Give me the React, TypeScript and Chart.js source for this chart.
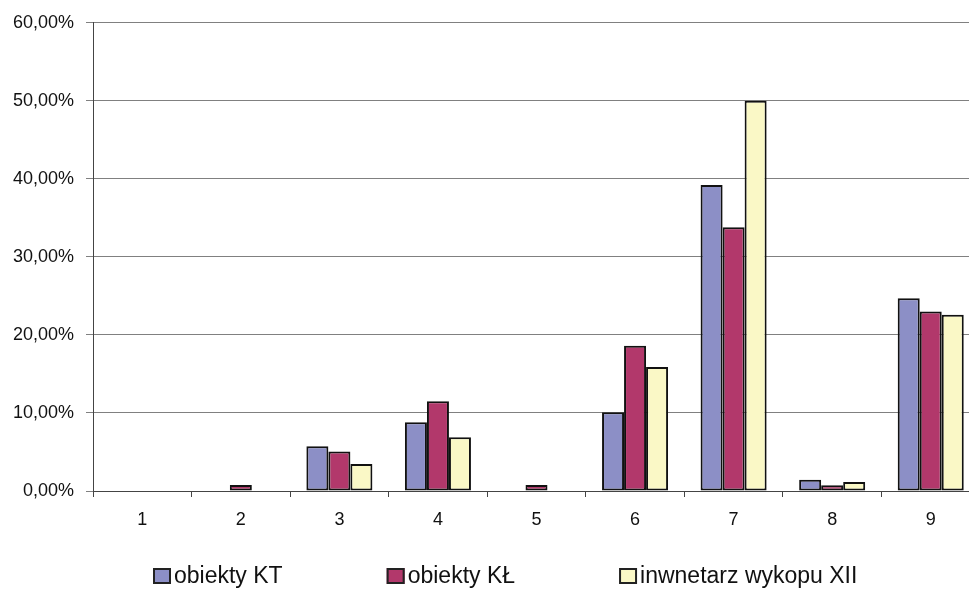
import React, { useEffect, useRef } from "react";
import { Chart, registerables } from "chart.js";

Chart.register(...registerables);

const categories = ["1", "2", "3", "4", "5", "6", "7", "8", "9"];
const seriesLabels = ["obiekty KT", "obiekty KŁ", "inwnetarz wykopu XII"];
const obiektyKT = [0, 0, 5.75, 8.8, 0, 10.1, 39.2, 1.45, 24.7];
const obiektyKL = [0, 0.78, 5.05, 11.5, 0.78, 18.6, 33.8, 0.75, 23.0];
const inwentarz = [0, 0, 3.45, 6.9, 0, 15.9, 50.0, 1.15, 22.6];
const seriesColors = ["#8C8FC6", "#B2386B", "#FAF8C6"];
const yTicks = [0, 10, 20, 30, 40, 50, 60];

const FONT = "'Liberation Sans', Arial, sans-serif";

const legendPlugin = {
  id: "customLegend",
  afterDraw(chart: any) {
    const ctx = chart.ctx;
    ctx.save();
    ctx.font = `23px ${FONT}`;
    ctx.textBaseline = "middle";
    ctx.textAlign = "left";
    const y = 576;
    let x = 153;
    chart.data.datasets.forEach((ds: any) => {
      ctx.fillStyle = ds.backgroundColor;
      ctx.fillRect(x, y - 8, 18, 16);
      ctx.strokeStyle = "#222";
      ctx.lineWidth = 2;
      ctx.strokeRect(x + 1, y - 7, 16, 14);
      ctx.fillStyle = "#111";
      ctx.fillText(ds.label, x + 21, y + 1);
      const w = ctx.measureText(ds.label).width;
      x += 21 + w + 104;
    });
    ctx.restore();
  },
};

export default function App() {
  const ref = useRef<HTMLCanvasElement | null>(null);
  useEffect(() => {
    if (!ref.current) return;
    const data = [obiektyKT, obiektyKL, inwentarz];
    const chart = new Chart(ref.current, {
      type: "bar",
      data: {
        labels: categories,
        datasets: seriesLabels.map((label, i) => ({
          label,
          data: data[i],
          backgroundColor: seriesColors[i],
          borderColor: "#111",
          borderWidth: 2,
          borderSkipped: false,
          categoryPercentage: 0.67,
          barPercentage: 1,
        })),
      },
      options: {
        responsive: false,
        animation: false,
        devicePixelRatio: 1,
        layout: { padding: { left: 0, right: 1, top: 21, bottom: 0 } },
        plugins: {
          legend: { display: false },
          tooltip: { enabled: false },
        },
        scales: {
          x: {
            grid: {
              display: true,
              drawOnChartArea: false,
              drawTicks: true,
              tickLength: 6,
              color: "#444",
              offset: true,
            },
            border: { display: true, color: "#444", width: 1 },
            ticks: {
              color: "#111",
              font: { family: FONT, size: 18 },
              padding: 12,
            },
            afterFit: (scale: any) => {
              scale.height = 98;
            },
          },
          y: {
            min: 0,
            max: 60,
            afterBuildTicks: (scale: any) => {
              scale.ticks = yTicks.map((v) => ({ value: v }));
            },
            grid: {
              color: "#808080",
              lineWidth: 1,
              drawTicks: true,
              tickLength: 7,
            },
            border: { display: true, color: "#444", width: 1 },
            ticks: {
              color: "#111",
              font: { family: FONT, size: 18 },
              padding: 12,
              callback: (v: any) => Number(v).toFixed(2).replace(".", ",") + "%",
            },
            afterFit: (scale: any) => {
              scale.width = 93;
            },
          },
        },
      },
      plugins: [legendPlugin],
    });
    return () => chart.destroy();
  }, []);
  return (
    <div style={{ position: "absolute", left: 0, top: 0, width: 969, height: 589, background: "#fff", overflow: "hidden" }}>
      <canvas ref={ref} width={981} height={589} style={{ display: "block" }} />
    </div>
  );
}
